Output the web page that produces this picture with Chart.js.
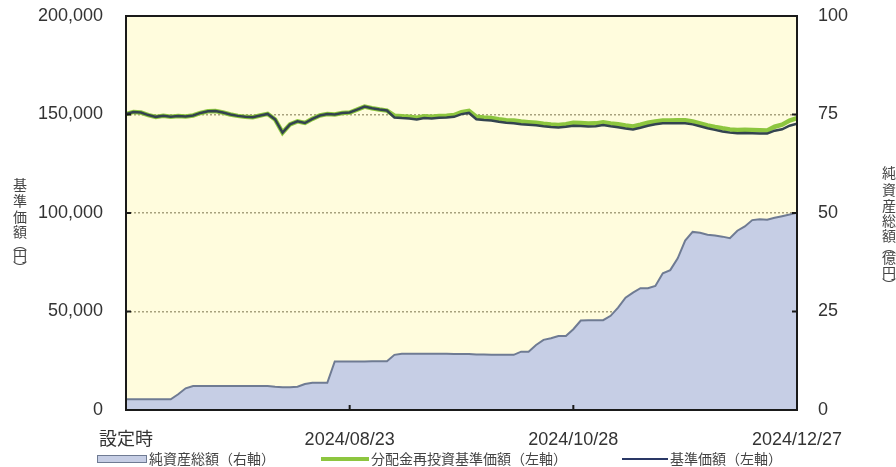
<!DOCTYPE html>
<html>
<head>
<meta charset="utf-8">
<script src="https://cdn.jsdelivr.net/npm/chart.js@4.4.1/dist/chart.umd.min.js"></script>
<style>
  html, body { margin: 0; padding: 0; background: #fff; }
</style>
</head>
<body>
<canvas id="fundChart" width="896" height="467"></canvas>
<script>
"use strict"

// x tick labels (business-day index -> label)
var tickIndex = [0, 30, 60, 90];
var tickLabels = ['設定時', '2024/08/23', '2024/10/28', '2024/12/27'];

// 基準価額 (円, left axis)
var navValues = [
  150200, 151300, 151000, 149700, 148800, 149300, 148900, 149200, 149000, 149500,
  150800, 151600, 151800, 151000, 150000, 149300, 148800, 148600, 149500, 150300,
  147500, 140800, 145000, 146500, 145700, 147800, 149500, 150200, 150000, 150800,
  151000, 152500, 154000, 153200, 152500, 152000, 148500, 148200, 148000, 147500,
  148200, 148000, 148300, 148500, 148800, 150200, 150800, 147600, 147200, 146900,
  146300, 145800, 145600, 145100, 144800, 144500, 144000, 143600, 143400, 143800,
  144300, 144200, 143900, 144000, 144600, 144000, 143500, 142900, 142400, 143300,
  144300, 145000, 145500, 145500, 145600, 145600, 145000, 144000, 143000, 142200,
  141400, 140800, 140500, 140600, 140500, 140400, 140300, 141800, 142500, 144300,
  145300
];

// 分配金再投資基準価額 (円, left axis)
var reinvValues = [
  150200, 151300, 151000, 149700, 148800, 149300, 148900, 149200, 149000, 149500,
  150800, 151600, 151800, 151000, 150000, 149300, 148800, 148600, 149500, 150300,
  147500, 140800, 145000, 146500, 145700, 147800, 149500, 150200, 150000, 150800,
  151000, 152500, 154000, 153200, 152500, 152000, 149400, 149100, 148900, 148400,
  149100, 148900, 149200, 149400, 149700, 151200, 151800, 148900, 148500, 148200,
  147600, 147100, 146900, 146400, 146100, 145800, 145300, 144900, 144700, 145100,
  145800, 145700, 145400, 145500, 146100, 145500, 145000, 144400, 143900, 144800,
  145800, 146500, 147000, 147000, 147100, 147100, 146500, 145500, 144500, 143700,
  143000, 142400, 142100, 142200, 142100, 142000, 141900, 143800, 144800, 146900,
  148100
];

// 純資産総額 (億円, right axis)
var netAssets = [
  2.7, 2.7, 2.7, 2.7, 2.7, 2.7, 2.7, 4.0, 5.5, 6.1,
  6.1, 6.1, 6.1, 6.1, 6.1, 6.1, 6.1, 6.1, 6.1, 6.1,
  5.9, 5.8, 5.8, 5.9, 6.6, 6.9, 6.9, 6.9, 12.3, 12.3,
  12.3, 12.3, 12.3, 12.4, 12.4, 12.4, 14.0, 14.3, 14.3, 14.3,
  14.3, 14.3, 14.3, 14.3, 14.2, 14.2, 14.2, 14.1, 14.1, 14.0,
  14.0, 14.0, 14.0, 14.8, 14.8, 16.5, 17.8, 18.2, 18.8, 18.8,
  20.5, 22.7, 22.8, 22.8, 22.8, 23.9, 26.0, 28.5, 29.8, 30.9,
  30.9, 31.5, 34.7, 35.5, 38.5, 43.0, 45.2, 45.0, 44.5, 44.3,
  44.0, 43.6, 45.5, 46.6, 48.2, 48.4, 48.3, 48.8, 49.2, 49.6,
  50.1
];

var leftTitle = ['基', '準', '価', '額', '︵', '円', '︶'];
var rightTitle = ['純', '資', '産', '総', '額', '︵', '億', '円', '︶'];

var areaFill = '#C6CEE5';
var areaLine = '#6F7B93';
var greenLine = '#8DC63F';
var navyLine = '#33434F';

function toXY(arr) {
  return arr.map(function (v, i) { return { x: i, y: v }; });
}

function noPad(s) {
  s.paddingTop = 0;
  s.paddingBottom = 0;
}

var framePlugin = {
  id: 'frame',
  beforeDraw: function (chart) {
    var a = chart.chartArea, c = chart.ctx;
    c.save();
    c.fillStyle = '#FFFCDD';
    c.fillRect(a.left, a.top, a.right - a.left, a.bottom - a.top);
    c.restore();
  },
  afterDatasetsDraw: function (chart) {
    var a = chart.chartArea, c = chart.ctx;
    var ys = chart.scales.y, xs = chart.scales.x;
    c.save();
    c.strokeStyle = '#1a1a1a';
    c.lineWidth = 2;
    c.strokeRect(a.left, a.top, a.right - a.left, a.bottom - a.top);
    c.beginPath();
    [50000, 100000, 150000].forEach(function (v) {
      var y = ys.getPixelForValue(v);
      c.moveTo(a.left, y); c.lineTo(a.left + 5, y);
      c.moveTo(a.right, y); c.lineTo(a.right - 5, y);
    });
    tickIndex.slice(1).forEach(function (i) {
      var x = xs.getPixelForValue(i);
      c.moveTo(x, a.bottom); c.lineTo(x, a.bottom - 5);
    });
    c.stroke();
    c.restore();
  },
  afterDraw: function (chart) {
    var c = chart.ctx;
    c.save();
    c.fillStyle = '#444';
    c.font = '14px "Noto Sans CJK JP"';
    c.textAlign = 'center';
    c.textBaseline = 'middle';
    var ly = [185, 201, 217, 232, 244, 256, 268];
    leftTitle.forEach(function (ch, i) { c.fillText(ch, 20, ly[i]); });
    var ry = [173, 190, 206, 221, 236, 247, 258, 273, 285];
    rightTitle.forEach(function (ch, i) { c.fillText(ch, 889, ry[i]); });

    // legend
    var ly0 = 459;
    c.fillStyle = areaFill;
    c.fillRect(97, ly0 - 4, 50, 8);
    c.strokeStyle = areaLine;
    c.lineWidth = 1;
    c.strokeRect(97.5, ly0 - 3.5, 49, 7);
    c.lineWidth = 4;
    c.strokeStyle = greenLine;
    c.beginPath(); c.moveTo(321, ly0); c.lineTo(369, ly0); c.stroke();
    c.lineWidth = 2;
    c.strokeStyle = '#2A3866';
    c.beginPath(); c.moveTo(622, ly0); c.lineTo(668, ly0); c.stroke();
    c.fillStyle = '#444';
    c.textAlign = 'left';
    c.font = '14px "Noto Sans CJK JP"';
    c.fillText('純資産総額（右軸）', 149, ly0);
    c.fillText('分配金再投資基準価額（左軸）', 371, ly0);
    c.fillText('基準価額（左軸）', 670, ly0);
    c.restore();
  }
};

var fund_chart_config = {
  type: 'line',
  data: {
    datasets: [{
      label: '基準価額（左軸）',
      data: toXY(navValues),
      yAxisID: 'y',
      borderColor: navyLine,
      borderWidth: 2.5,
      pointRadius: 0,
      fill: false,
      order: 1
    }, {
      label: '分配金再投資基準価額（左軸）',
      data: toXY(reinvValues),
      yAxisID: 'y',
      borderColor: greenLine,
      borderWidth: 4.5,
      pointRadius: 0,
      fill: false,
      order: 2
    }, {
      label: '純資産総額（右軸）',
      data: toXY(netAssets),
      yAxisID: 'y1',
      borderColor: areaLine,
      backgroundColor: areaFill,
      borderWidth: 2,
      pointRadius: 0,
      fill: 'origin',
      order: 3
    }]
  },
  options: {
    responsive: false,
    animation: false,
    layout: { padding: { top: 16, left: 0, right: 0, bottom: 0 } },
    plugins: {
      legend: { display: false },
      tooltip: { enabled: false }
    },
    scales: {
      x: {
        type: 'linear',
        min: 0,
        max: 90,
        afterBuildTicks: function (axis) {
          axis.ticks = tickIndex.map(function (v) { return { value: v }; });
        },
        afterFit: function (s) {
          s.height = 57;
          s.paddingLeft = 0;
          s.paddingRight = 0;
        },
        grid: { display: false, drawTicks: false },
        border: { display: false },
        ticks: {
          padding: 19,
          maxRotation: 0,
          autoSkip: false,
          color: '#333',
          font: { size: 18 },
          callback: function (v) { return tickLabels[tickIndex.indexOf(v)]; }
        }
      },
      y: {
        position: 'left',
        min: 0,
        max: 200000,
        afterFit: function (s) { s.width = 126; noPad(s); },
        grid: { color: '#A8A27E', lineWidth: 1.5, drawTicks: false },
        border: { display: false, dash: [2, 2] },
        ticks: {
          stepSize: 50000,
          padding: 23,
          color: '#333',
          font: { size: 18 },
          callback: function (v) { return v.toLocaleString('en-US'); }
        }
      },
      y1: {
        position: 'right',
        min: 0,
        max: 100,
        afterFit: function (s) { s.width = 99; noPad(s); },
        grid: { display: false, drawTicks: false },
        border: { display: false },
        ticks: {
          stepSize: 25,
          padding: 21,
          color: '#333',
          font: { size: 18 }
        }
      }
    }
  },
  plugins: [framePlugin]
};

Chart.defaults.font.family = '"Liberation Sans", "Noto Sans CJK JP", sans-serif';
var fund_ctx = document.getElementById('fundChart').getContext('2d');
var fund_chart = new Chart(fund_ctx, fund_chart_config);
</script>
</body>
</html>
